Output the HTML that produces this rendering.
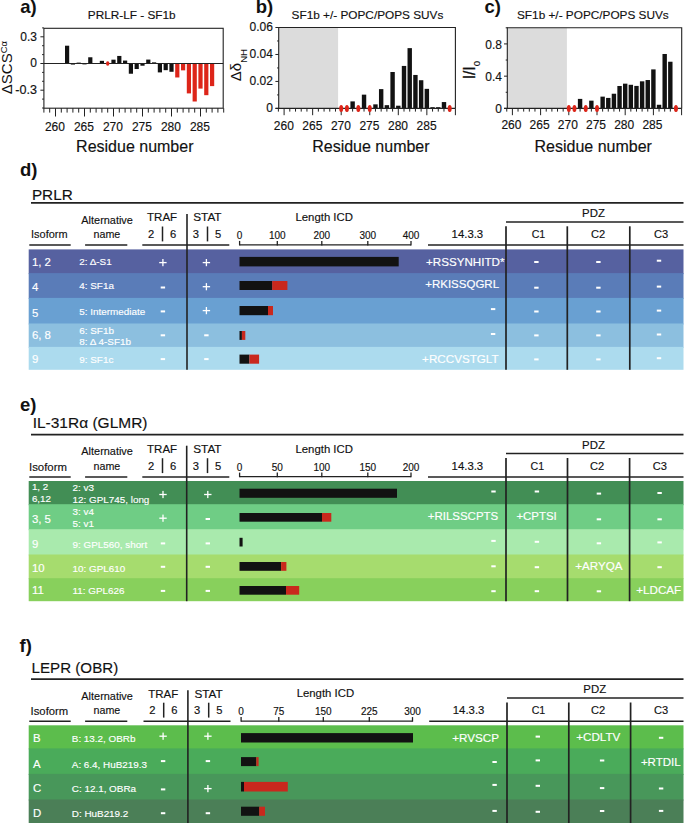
<!DOCTYPE html>
<html><head><meta charset="utf-8"><style>
html,body{margin:0;padding:0;background:#fff;}
body{width:685px;height:823px;overflow:hidden;}
svg{display:block;font-family:"Liberation Sans", sans-serif;}
</style></head><body>
<svg width="685" height="823" viewBox="0 0 685 823">
<rect x="0" y="0" width="685" height="823" fill="#fff"/>
<text x="20.20" y="13.00" font-size="18.5" fill="#111" font-weight="bold">a)</text>
<text x="255.80" y="13.00" font-size="18.5" fill="#111" font-weight="bold">b)</text>
<text x="484.50" y="13.00" font-size="18.5" fill="#111" font-weight="bold">c)</text>
<rect x="43.90" y="28.30" width="179.30" height="79.90" fill="#fff"/>
<rect x="65.00" y="45.70" width="4.20" height="17.80" fill="#121212"/>
<rect x="70.80" y="63.50" width="4.20" height="1.07" fill="#121212"/>
<rect x="76.60" y="62.61" width="4.20" height="0.89" fill="#121212"/>
<rect x="82.40" y="63.50" width="4.20" height="0.89" fill="#121212"/>
<rect x="88.20" y="57.27" width="4.20" height="6.23" fill="#121212"/>
<rect x="99.80" y="60.83" width="4.20" height="2.67" fill="#121212"/>
<rect x="111.40" y="59.67" width="4.20" height="3.83" fill="#121212"/>
<rect x="117.20" y="55.94" width="4.20" height="7.56" fill="#121212"/>
<rect x="123.00" y="60.56" width="4.20" height="2.94" fill="#121212"/>
<rect x="128.80" y="63.50" width="4.20" height="10.23" fill="#121212"/>
<rect x="134.60" y="63.50" width="4.20" height="5.52" fill="#121212"/>
<rect x="140.40" y="63.50" width="4.20" height="2.22" fill="#121212"/>
<rect x="146.20" y="59.58" width="4.20" height="3.92" fill="#121212"/>
<rect x="152.00" y="62.34" width="4.20" height="1.16" fill="#121212"/>
<rect x="157.80" y="63.50" width="4.20" height="8.90" fill="#121212"/>
<rect x="163.60" y="63.50" width="4.20" height="6.67" fill="#121212"/>
<rect x="169.40" y="63.50" width="4.20" height="8.28" fill="#121212"/>
<rect x="175.20" y="63.50" width="4.20" height="13.97" fill="#dd2519"/>
<rect x="181.00" y="63.50" width="4.20" height="6.85" fill="#dd2519"/>
<rect x="186.80" y="63.50" width="4.20" height="29.90" fill="#dd2519"/>
<rect x="192.60" y="63.50" width="4.20" height="38.00" fill="#dd2519"/>
<rect x="198.40" y="63.50" width="4.20" height="25.10" fill="#dd2519"/>
<rect x="204.20" y="63.50" width="4.20" height="31.68" fill="#dd2519"/>
<rect x="210.00" y="63.50" width="4.20" height="22.61" fill="#dd2519"/>
<line x1="43.90" y1="63.50" x2="223.20" y2="63.50" stroke="#222" stroke-width="1.1"/>
<ellipse cx="107.70" cy="63.50" rx="1.7" ry="2.3" fill="#dd2519"/>
<rect x="43.90" y="28.30" width="179.30" height="79.90" fill="none" stroke="#222" stroke-width="1.1"/>
<line x1="42.10" y1="108.00" x2="43.90" y2="108.00" stroke="#222" stroke-width="1.0"/>
<line x1="42.10" y1="99.10" x2="43.90" y2="99.10" stroke="#222" stroke-width="1.0"/>
<line x1="40.40" y1="90.20" x2="43.90" y2="90.20" stroke="#222" stroke-width="1.0"/>
<line x1="42.10" y1="81.30" x2="43.90" y2="81.30" stroke="#222" stroke-width="1.0"/>
<line x1="42.10" y1="72.40" x2="43.90" y2="72.40" stroke="#222" stroke-width="1.0"/>
<line x1="40.40" y1="63.50" x2="43.90" y2="63.50" stroke="#222" stroke-width="1.0"/>
<line x1="42.10" y1="54.60" x2="43.90" y2="54.60" stroke="#222" stroke-width="1.0"/>
<line x1="42.10" y1="45.70" x2="43.90" y2="45.70" stroke="#222" stroke-width="1.0"/>
<line x1="40.40" y1="36.80" x2="43.90" y2="36.80" stroke="#222" stroke-width="1.0"/>
<line x1="42.10" y1="27.90" x2="43.90" y2="27.90" stroke="#222" stroke-width="1.0"/>
<text x="36.90" y="40.70" font-size="12" fill="#111" stroke="#111" stroke-width="0.15" text-anchor="end">0.3</text>
<text x="36.90" y="67.40" font-size="12" fill="#111" stroke="#111" stroke-width="0.15" text-anchor="end">0</text>
<text x="15.20" y="94.10" font-size="12" fill="#111" stroke="#111" stroke-width="0.15" textLength="21.70" lengthAdjust="spacingAndGlyphs">-0.3</text>
<line x1="43.90" y1="108.20" x2="43.90" y2="112.60" stroke="#222" stroke-width="1.0"/>
<line x1="49.70" y1="108.20" x2="49.70" y2="112.60" stroke="#222" stroke-width="1.0"/>
<line x1="55.50" y1="108.20" x2="55.50" y2="116.50" stroke="#222" stroke-width="1.0"/>
<line x1="61.30" y1="108.20" x2="61.30" y2="112.60" stroke="#222" stroke-width="1.0"/>
<line x1="67.10" y1="108.20" x2="67.10" y2="112.60" stroke="#222" stroke-width="1.0"/>
<line x1="72.90" y1="108.20" x2="72.90" y2="112.60" stroke="#222" stroke-width="1.0"/>
<line x1="78.70" y1="108.20" x2="78.70" y2="112.60" stroke="#222" stroke-width="1.0"/>
<line x1="84.50" y1="108.20" x2="84.50" y2="116.50" stroke="#222" stroke-width="1.0"/>
<line x1="90.30" y1="108.20" x2="90.30" y2="112.60" stroke="#222" stroke-width="1.0"/>
<line x1="96.10" y1="108.20" x2="96.10" y2="112.60" stroke="#222" stroke-width="1.0"/>
<line x1="101.90" y1="108.20" x2="101.90" y2="112.60" stroke="#222" stroke-width="1.0"/>
<line x1="107.70" y1="108.20" x2="107.70" y2="112.60" stroke="#222" stroke-width="1.0"/>
<line x1="113.50" y1="108.20" x2="113.50" y2="116.50" stroke="#222" stroke-width="1.0"/>
<line x1="119.30" y1="108.20" x2="119.30" y2="112.60" stroke="#222" stroke-width="1.0"/>
<line x1="125.10" y1="108.20" x2="125.10" y2="112.60" stroke="#222" stroke-width="1.0"/>
<line x1="130.90" y1="108.20" x2="130.90" y2="112.60" stroke="#222" stroke-width="1.0"/>
<line x1="136.70" y1="108.20" x2="136.70" y2="112.60" stroke="#222" stroke-width="1.0"/>
<line x1="142.50" y1="108.20" x2="142.50" y2="116.50" stroke="#222" stroke-width="1.0"/>
<line x1="148.30" y1="108.20" x2="148.30" y2="112.60" stroke="#222" stroke-width="1.0"/>
<line x1="154.10" y1="108.20" x2="154.10" y2="112.60" stroke="#222" stroke-width="1.0"/>
<line x1="159.90" y1="108.20" x2="159.90" y2="112.60" stroke="#222" stroke-width="1.0"/>
<line x1="165.70" y1="108.20" x2="165.70" y2="112.60" stroke="#222" stroke-width="1.0"/>
<line x1="171.50" y1="108.20" x2="171.50" y2="116.50" stroke="#222" stroke-width="1.0"/>
<line x1="177.30" y1="108.20" x2="177.30" y2="112.60" stroke="#222" stroke-width="1.0"/>
<line x1="183.10" y1="108.20" x2="183.10" y2="112.60" stroke="#222" stroke-width="1.0"/>
<line x1="188.90" y1="108.20" x2="188.90" y2="112.60" stroke="#222" stroke-width="1.0"/>
<line x1="194.70" y1="108.20" x2="194.70" y2="112.60" stroke="#222" stroke-width="1.0"/>
<line x1="200.50" y1="108.20" x2="200.50" y2="116.50" stroke="#222" stroke-width="1.0"/>
<line x1="206.30" y1="108.20" x2="206.30" y2="112.60" stroke="#222" stroke-width="1.0"/>
<line x1="212.10" y1="108.20" x2="212.10" y2="112.60" stroke="#222" stroke-width="1.0"/>
<line x1="217.90" y1="108.20" x2="217.90" y2="112.60" stroke="#222" stroke-width="1.0"/>
<line x1="223.70" y1="108.20" x2="223.70" y2="112.60" stroke="#222" stroke-width="1.0"/>
<text x="54.90" y="131.00" font-size="12" fill="#111" stroke="#111" stroke-width="0.15" text-anchor="middle">260</text>
<text x="83.90" y="131.00" font-size="12" fill="#111" stroke="#111" stroke-width="0.15" text-anchor="middle">265</text>
<text x="112.90" y="131.00" font-size="12" fill="#111" stroke="#111" stroke-width="0.15" text-anchor="middle">270</text>
<text x="141.90" y="131.00" font-size="12" fill="#111" stroke="#111" stroke-width="0.15" text-anchor="middle">275</text>
<text x="170.90" y="131.00" font-size="12" fill="#111" stroke="#111" stroke-width="0.15" text-anchor="middle">280</text>
<text x="199.90" y="131.00" font-size="12" fill="#111" stroke="#111" stroke-width="0.15" text-anchor="middle">285</text>
<text x="134.80" y="151.60" font-size="16" fill="#111" stroke="#111" stroke-width="0.15" text-anchor="middle">Residue number</text>
<text x="131.70" y="18.70" font-size="11.8" fill="#111" stroke="#111" stroke-width="0.15" text-anchor="middle">PRLR-LF - SF1b</text>
<text transform="translate(12.3,94.2) rotate(-90)" font-size="15" fill="#111">ΔSCS<tspan dy="-5.2" font-size="9.5">Cα</tspan></text>
<rect x="278.70" y="27.50" width="59.40" height="80.90" fill="#dcdcdc"/>
<rect x="350.42" y="101.39" width="4.40" height="7.01" fill="#121212"/>
<rect x="361.84" y="94.65" width="4.40" height="13.75" fill="#121212"/>
<rect x="373.26" y="104.36" width="4.40" height="4.05" fill="#121212"/>
<rect x="378.97" y="89.12" width="4.40" height="19.28" fill="#121212"/>
<rect x="384.68" y="105.16" width="4.40" height="3.24" fill="#121212"/>
<rect x="390.39" y="72.00" width="4.40" height="36.41" fill="#121212"/>
<rect x="396.10" y="105.70" width="4.40" height="2.70" fill="#121212"/>
<rect x="401.81" y="65.93" width="4.40" height="42.47" fill="#121212"/>
<rect x="407.52" y="48.13" width="4.40" height="60.27" fill="#121212"/>
<rect x="413.23" y="74.96" width="4.40" height="33.44" fill="#121212"/>
<rect x="418.94" y="80.22" width="4.40" height="28.18" fill="#121212"/>
<rect x="424.65" y="88.85" width="4.40" height="19.55" fill="#121212"/>
<rect x="430.36" y="107.19" width="4.40" height="1.21" fill="#121212"/>
<rect x="436.07" y="107.19" width="4.40" height="1.21" fill="#121212"/>
<rect x="441.78" y="102.06" width="4.40" height="6.34" fill="#121212"/>
<polyline points="278.70,27.50 455.40,27.50 455.40,108.40" fill="none" stroke="#222" stroke-width="1.1"/>
<line x1="278.70" y1="27.00" x2="278.70" y2="108.90" stroke="#222" stroke-width="1.1"/>
<line x1="275.50" y1="108.40" x2="455.40" y2="108.40" stroke="#222" stroke-width="1.1"/>
<line x1="275.40" y1="108.40" x2="278.70" y2="108.40" stroke="#222" stroke-width="1.0"/>
<line x1="277.10" y1="94.92" x2="278.70" y2="94.92" stroke="#222" stroke-width="1.0"/>
<line x1="275.40" y1="81.43" x2="278.70" y2="81.43" stroke="#222" stroke-width="1.0"/>
<line x1="277.10" y1="67.95" x2="278.70" y2="67.95" stroke="#222" stroke-width="1.0"/>
<line x1="275.40" y1="54.47" x2="278.70" y2="54.47" stroke="#222" stroke-width="1.0"/>
<line x1="277.10" y1="40.98" x2="278.70" y2="40.98" stroke="#222" stroke-width="1.0"/>
<line x1="275.40" y1="27.50" x2="278.70" y2="27.50" stroke="#222" stroke-width="1.0"/>
<text x="272.90" y="111.90" font-size="12" fill="#111" stroke="#111" stroke-width="0.15" text-anchor="end">0</text>
<text x="272.90" y="84.93" font-size="12" fill="#111" stroke="#111" stroke-width="0.15" text-anchor="end">0.02</text>
<text x="272.90" y="57.97" font-size="12" fill="#111" stroke="#111" stroke-width="0.15" text-anchor="end">0.04</text>
<text x="272.90" y="31.00" font-size="12" fill="#111" stroke="#111" stroke-width="0.15" text-anchor="end">0.06</text>
<line x1="278.39" y1="108.40" x2="278.39" y2="111.60" stroke="#222" stroke-width="1.0"/>
<line x1="284.10" y1="108.40" x2="284.10" y2="115.20" stroke="#222" stroke-width="1.0"/>
<line x1="289.81" y1="108.40" x2="289.81" y2="111.60" stroke="#222" stroke-width="1.0"/>
<line x1="295.52" y1="108.40" x2="295.52" y2="111.60" stroke="#222" stroke-width="1.0"/>
<line x1="301.23" y1="108.40" x2="301.23" y2="111.60" stroke="#222" stroke-width="1.0"/>
<line x1="306.94" y1="108.40" x2="306.94" y2="111.60" stroke="#222" stroke-width="1.0"/>
<line x1="312.65" y1="108.40" x2="312.65" y2="115.20" stroke="#222" stroke-width="1.0"/>
<line x1="318.36" y1="108.40" x2="318.36" y2="111.60" stroke="#222" stroke-width="1.0"/>
<line x1="324.07" y1="108.40" x2="324.07" y2="111.60" stroke="#222" stroke-width="1.0"/>
<line x1="329.78" y1="108.40" x2="329.78" y2="111.60" stroke="#222" stroke-width="1.0"/>
<line x1="335.49" y1="108.40" x2="335.49" y2="111.60" stroke="#222" stroke-width="1.0"/>
<line x1="341.20" y1="108.40" x2="341.20" y2="115.20" stroke="#222" stroke-width="1.0"/>
<line x1="346.91" y1="108.40" x2="346.91" y2="111.60" stroke="#222" stroke-width="1.0"/>
<line x1="352.62" y1="108.40" x2="352.62" y2="111.60" stroke="#222" stroke-width="1.0"/>
<line x1="358.33" y1="108.40" x2="358.33" y2="111.60" stroke="#222" stroke-width="1.0"/>
<line x1="364.04" y1="108.40" x2="364.04" y2="111.60" stroke="#222" stroke-width="1.0"/>
<line x1="369.75" y1="108.40" x2="369.75" y2="115.20" stroke="#222" stroke-width="1.0"/>
<line x1="375.46" y1="108.40" x2="375.46" y2="111.60" stroke="#222" stroke-width="1.0"/>
<line x1="381.17" y1="108.40" x2="381.17" y2="111.60" stroke="#222" stroke-width="1.0"/>
<line x1="386.88" y1="108.40" x2="386.88" y2="111.60" stroke="#222" stroke-width="1.0"/>
<line x1="392.59" y1="108.40" x2="392.59" y2="111.60" stroke="#222" stroke-width="1.0"/>
<line x1="398.30" y1="108.40" x2="398.30" y2="115.20" stroke="#222" stroke-width="1.0"/>
<line x1="404.01" y1="108.40" x2="404.01" y2="111.60" stroke="#222" stroke-width="1.0"/>
<line x1="409.72" y1="108.40" x2="409.72" y2="111.60" stroke="#222" stroke-width="1.0"/>
<line x1="415.43" y1="108.40" x2="415.43" y2="111.60" stroke="#222" stroke-width="1.0"/>
<line x1="421.14" y1="108.40" x2="421.14" y2="111.60" stroke="#222" stroke-width="1.0"/>
<line x1="426.85" y1="108.40" x2="426.85" y2="115.20" stroke="#222" stroke-width="1.0"/>
<line x1="432.56" y1="108.40" x2="432.56" y2="111.60" stroke="#222" stroke-width="1.0"/>
<line x1="438.27" y1="108.40" x2="438.27" y2="111.60" stroke="#222" stroke-width="1.0"/>
<line x1="443.98" y1="108.40" x2="443.98" y2="111.60" stroke="#222" stroke-width="1.0"/>
<line x1="449.69" y1="108.40" x2="449.69" y2="111.60" stroke="#222" stroke-width="1.0"/>
<line x1="455.40" y1="108.40" x2="455.40" y2="115.20" stroke="#222" stroke-width="1.0"/>
<ellipse cx="341.20" cy="108.40" rx="2.0" ry="3.5" fill="#dd2519"/>
<ellipse cx="346.91" cy="108.40" rx="2.0" ry="3.5" fill="#dd2519"/>
<ellipse cx="358.33" cy="108.40" rx="2.0" ry="3.5" fill="#dd2519"/>
<ellipse cx="369.75" cy="108.40" rx="2.0" ry="3.5" fill="#dd2519"/>
<ellipse cx="449.69" cy="108.40" rx="2.0" ry="3.5" fill="#dd2519"/>
<text x="283.80" y="129.90" font-size="12" fill="#111" stroke="#111" stroke-width="0.15" text-anchor="middle">260</text>
<text x="312.35" y="129.90" font-size="12" fill="#111" stroke="#111" stroke-width="0.15" text-anchor="middle">265</text>
<text x="340.90" y="129.90" font-size="12" fill="#111" stroke="#111" stroke-width="0.15" text-anchor="middle">270</text>
<text x="369.45" y="129.90" font-size="12" fill="#111" stroke="#111" stroke-width="0.15" text-anchor="middle">275</text>
<text x="398.00" y="129.90" font-size="12" fill="#111" stroke="#111" stroke-width="0.15" text-anchor="middle">280</text>
<text x="426.55" y="129.90" font-size="12" fill="#111" stroke="#111" stroke-width="0.15" text-anchor="middle">285</text>
<text x="370.90" y="151.60" font-size="16" fill="#111" stroke="#111" stroke-width="0.15" text-anchor="middle">Residue number</text>
<text x="367.50" y="18.70" font-size="11.8" fill="#111" stroke="#111" stroke-width="0.15" text-anchor="middle">SF1b +/- POPC/POPS SUVs</text>
<text transform="translate(241.2,81.2) rotate(-90)" font-size="15" fill="#111">Δδ<tspan dy="5.6" font-size="9.6">NH</tspan></text>
<rect x="507.30" y="27.80" width="59.60" height="80.60" fill="#dcdcdc"/>
<rect x="577.88" y="98.89" width="4.40" height="9.51" fill="#121212"/>
<rect x="589.16" y="100.66" width="4.40" height="7.74" fill="#121212"/>
<rect x="600.44" y="96.63" width="4.40" height="11.77" fill="#121212"/>
<rect x="606.08" y="97.92" width="4.40" height="10.48" fill="#121212"/>
<rect x="611.72" y="93.73" width="4.40" height="14.67" fill="#121212"/>
<rect x="617.36" y="85.99" width="4.40" height="22.41" fill="#121212"/>
<rect x="623.00" y="83.66" width="4.40" height="24.74" fill="#121212"/>
<rect x="628.64" y="84.78" width="4.40" height="23.62" fill="#121212"/>
<rect x="634.28" y="85.91" width="4.40" height="22.49" fill="#121212"/>
<rect x="639.92" y="81.32" width="4.40" height="27.08" fill="#121212"/>
<rect x="645.56" y="80.03" width="4.40" height="28.37" fill="#121212"/>
<rect x="651.20" y="69.39" width="4.40" height="39.01" fill="#121212"/>
<rect x="656.84" y="104.77" width="4.40" height="3.63" fill="#121212"/>
<rect x="662.48" y="53.99" width="4.40" height="54.41" fill="#121212"/>
<rect x="668.12" y="61.73" width="4.40" height="46.67" fill="#121212"/>
<polyline points="507.30,27.80 681.70,27.80 681.70,108.40" fill="none" stroke="#222" stroke-width="1.1"/>
<line x1="507.30" y1="27.30" x2="507.30" y2="108.90" stroke="#222" stroke-width="1.1"/>
<line x1="504.10" y1="108.40" x2="681.70" y2="108.40" stroke="#222" stroke-width="1.1"/>
<line x1="504.00" y1="108.40" x2="507.30" y2="108.40" stroke="#222" stroke-width="1.0"/>
<line x1="505.70" y1="92.28" x2="507.30" y2="92.28" stroke="#222" stroke-width="1.0"/>
<line x1="504.00" y1="76.16" x2="507.30" y2="76.16" stroke="#222" stroke-width="1.0"/>
<line x1="505.70" y1="60.04" x2="507.30" y2="60.04" stroke="#222" stroke-width="1.0"/>
<line x1="504.00" y1="43.92" x2="507.30" y2="43.92" stroke="#222" stroke-width="1.0"/>
<line x1="505.70" y1="27.80" x2="507.30" y2="27.80" stroke="#222" stroke-width="1.0"/>
<text x="502.00" y="113.20" font-size="12" fill="#111" stroke="#111" stroke-width="0.15" text-anchor="end">0</text>
<text x="502.00" y="80.96" font-size="12" fill="#111" stroke="#111" stroke-width="0.15" text-anchor="end">0.4</text>
<text x="502.00" y="48.72" font-size="12" fill="#111" stroke="#111" stroke-width="0.15" text-anchor="end">0.8</text>
<line x1="506.76" y1="108.40" x2="506.76" y2="111.60" stroke="#222" stroke-width="1.0"/>
<line x1="512.40" y1="108.40" x2="512.40" y2="115.20" stroke="#222" stroke-width="1.0"/>
<line x1="518.04" y1="108.40" x2="518.04" y2="111.60" stroke="#222" stroke-width="1.0"/>
<line x1="523.68" y1="108.40" x2="523.68" y2="111.60" stroke="#222" stroke-width="1.0"/>
<line x1="529.32" y1="108.40" x2="529.32" y2="111.60" stroke="#222" stroke-width="1.0"/>
<line x1="534.96" y1="108.40" x2="534.96" y2="111.60" stroke="#222" stroke-width="1.0"/>
<line x1="540.60" y1="108.40" x2="540.60" y2="115.20" stroke="#222" stroke-width="1.0"/>
<line x1="546.24" y1="108.40" x2="546.24" y2="111.60" stroke="#222" stroke-width="1.0"/>
<line x1="551.88" y1="108.40" x2="551.88" y2="111.60" stroke="#222" stroke-width="1.0"/>
<line x1="557.52" y1="108.40" x2="557.52" y2="111.60" stroke="#222" stroke-width="1.0"/>
<line x1="563.16" y1="108.40" x2="563.16" y2="111.60" stroke="#222" stroke-width="1.0"/>
<line x1="568.80" y1="108.40" x2="568.80" y2="115.20" stroke="#222" stroke-width="1.0"/>
<line x1="574.44" y1="108.40" x2="574.44" y2="111.60" stroke="#222" stroke-width="1.0"/>
<line x1="580.08" y1="108.40" x2="580.08" y2="111.60" stroke="#222" stroke-width="1.0"/>
<line x1="585.72" y1="108.40" x2="585.72" y2="111.60" stroke="#222" stroke-width="1.0"/>
<line x1="591.36" y1="108.40" x2="591.36" y2="111.60" stroke="#222" stroke-width="1.0"/>
<line x1="597.00" y1="108.40" x2="597.00" y2="115.20" stroke="#222" stroke-width="1.0"/>
<line x1="602.64" y1="108.40" x2="602.64" y2="111.60" stroke="#222" stroke-width="1.0"/>
<line x1="608.28" y1="108.40" x2="608.28" y2="111.60" stroke="#222" stroke-width="1.0"/>
<line x1="613.92" y1="108.40" x2="613.92" y2="111.60" stroke="#222" stroke-width="1.0"/>
<line x1="619.56" y1="108.40" x2="619.56" y2="111.60" stroke="#222" stroke-width="1.0"/>
<line x1="625.20" y1="108.40" x2="625.20" y2="115.20" stroke="#222" stroke-width="1.0"/>
<line x1="630.84" y1="108.40" x2="630.84" y2="111.60" stroke="#222" stroke-width="1.0"/>
<line x1="636.48" y1="108.40" x2="636.48" y2="111.60" stroke="#222" stroke-width="1.0"/>
<line x1="642.12" y1="108.40" x2="642.12" y2="111.60" stroke="#222" stroke-width="1.0"/>
<line x1="647.76" y1="108.40" x2="647.76" y2="111.60" stroke="#222" stroke-width="1.0"/>
<line x1="653.40" y1="108.40" x2="653.40" y2="115.20" stroke="#222" stroke-width="1.0"/>
<line x1="659.04" y1="108.40" x2="659.04" y2="111.60" stroke="#222" stroke-width="1.0"/>
<line x1="664.68" y1="108.40" x2="664.68" y2="111.60" stroke="#222" stroke-width="1.0"/>
<line x1="670.32" y1="108.40" x2="670.32" y2="111.60" stroke="#222" stroke-width="1.0"/>
<line x1="675.96" y1="108.40" x2="675.96" y2="111.60" stroke="#222" stroke-width="1.0"/>
<line x1="681.60" y1="108.40" x2="681.60" y2="115.20" stroke="#222" stroke-width="1.0"/>
<ellipse cx="568.80" cy="108.40" rx="2.0" ry="3.5" fill="#dd2519"/>
<ellipse cx="574.44" cy="108.40" rx="2.0" ry="3.5" fill="#dd2519"/>
<ellipse cx="585.72" cy="108.40" rx="2.0" ry="3.5" fill="#dd2519"/>
<ellipse cx="597.00" cy="108.40" rx="2.0" ry="3.5" fill="#dd2519"/>
<ellipse cx="675.96" cy="108.40" rx="2.0" ry="3.5" fill="#dd2519"/>
<text x="511.40" y="128.80" font-size="12" fill="#111" stroke="#111" stroke-width="0.15" text-anchor="middle">260</text>
<text x="539.60" y="128.80" font-size="12" fill="#111" stroke="#111" stroke-width="0.15" text-anchor="middle">265</text>
<text x="567.80" y="128.80" font-size="12" fill="#111" stroke="#111" stroke-width="0.15" text-anchor="middle">270</text>
<text x="596.00" y="128.80" font-size="12" fill="#111" stroke="#111" stroke-width="0.15" text-anchor="middle">275</text>
<text x="624.20" y="128.80" font-size="12" fill="#111" stroke="#111" stroke-width="0.15" text-anchor="middle">280</text>
<text x="652.40" y="128.80" font-size="12" fill="#111" stroke="#111" stroke-width="0.15" text-anchor="middle">285</text>
<text x="593.20" y="151.60" font-size="16" fill="#111" stroke="#111" stroke-width="0.15" text-anchor="middle">Residue number</text>
<text x="592.90" y="18.70" font-size="11.8" fill="#111" stroke="#111" stroke-width="0.15" text-anchor="middle">SF1b +/- POPC/POPS SUVs</text>
<text transform="translate(474.9,79.3) rotate(-90)" font-size="15.6" fill="#111" stroke="#111" stroke-width="0.35">I/I<tspan dy="5.3" font-size="9.8" stroke-width="0.15">0</tspan></text>
<text x="19.90" y="176.30" font-size="18.5" fill="#111" font-weight="bold">d)</text>
<text x="31.90" y="199.70" font-size="15.3" fill="#111" stroke="#111" stroke-width="0.15">PRLR</text>
<line x1="31.00" y1="202.90" x2="683.50" y2="202.90" stroke="#222" stroke-width="1.6"/>
<text x="49.30" y="238.30" font-size="11.2" fill="#111" stroke="#111" stroke-width="0.15" text-anchor="middle" textLength="36.50" lengthAdjust="spacingAndGlyphs">Isoform</text>
<text x="107.10" y="223.60" font-size="11.2" fill="#111" stroke="#111" stroke-width="0.15" text-anchor="middle" textLength="51.50" lengthAdjust="spacingAndGlyphs">Alternative</text>
<text x="106.90" y="238.10" font-size="11.2" fill="#111" stroke="#111" stroke-width="0.15" text-anchor="middle" textLength="26.80" lengthAdjust="spacingAndGlyphs">name</text>
<text x="162.10" y="221.40" font-size="11.2" fill="#111" stroke="#111" stroke-width="0.15" text-anchor="middle" textLength="30.00" lengthAdjust="spacingAndGlyphs">TRAF</text>
<text x="207.40" y="221.40" font-size="11.2" fill="#111" stroke="#111" stroke-width="0.15" text-anchor="middle" textLength="28.30" lengthAdjust="spacingAndGlyphs">STAT</text>
<text x="151.10" y="238.10" font-size="11.2" fill="#111" stroke="#111" stroke-width="0.15" text-anchor="middle">2</text>
<text x="173.20" y="238.10" font-size="11.2" fill="#111" stroke="#111" stroke-width="0.15" text-anchor="middle">6</text>
<text x="195.90" y="238.10" font-size="11.2" fill="#111" stroke="#111" stroke-width="0.15" text-anchor="middle">3</text>
<text x="218.20" y="238.10" font-size="11.2" fill="#111" stroke="#111" stroke-width="0.15" text-anchor="middle">5</text>
<line x1="162.50" y1="226.50" x2="162.50" y2="241.40" stroke="#222" stroke-width="1.5"/>
<line x1="207.50" y1="226.50" x2="207.50" y2="241.40" stroke="#222" stroke-width="1.5"/>
<text x="324.20" y="221.10" font-size="11.2" fill="#111" stroke="#111" stroke-width="0.15" text-anchor="middle" textLength="57.50" lengthAdjust="spacingAndGlyphs">Length ICD</text>
<text x="467.40" y="238.20" font-size="11.2" fill="#111" stroke="#111" stroke-width="0.15" text-anchor="middle" textLength="31.60" lengthAdjust="spacingAndGlyphs">14.3.3</text>
<text x="593.50" y="217.20" font-size="11.2" fill="#111" stroke="#111" stroke-width="0.15" text-anchor="middle" textLength="22.80" lengthAdjust="spacingAndGlyphs">PDZ</text>
<text x="538.50" y="238.00" font-size="11.2" fill="#111" stroke="#111" stroke-width="0.15" text-anchor="middle" textLength="13.60" lengthAdjust="spacingAndGlyphs">C1</text>
<text x="598.20" y="238.00" font-size="11.2" fill="#111" stroke="#111" stroke-width="0.15" text-anchor="middle" textLength="14.20" lengthAdjust="spacingAndGlyphs">C2</text>
<text x="661.00" y="238.00" font-size="11.2" fill="#111" stroke="#111" stroke-width="0.15" text-anchor="middle" textLength="14.20" lengthAdjust="spacingAndGlyphs">C3</text>
<line x1="29.30" y1="244.90" x2="70.70" y2="244.90" stroke="#222" stroke-width="1.5"/>
<line x1="85.10" y1="244.90" x2="127.30" y2="244.90" stroke="#222" stroke-width="1.5"/>
<line x1="142.30" y1="244.90" x2="229.30" y2="244.90" stroke="#222" stroke-width="1.5"/>
<line x1="428.00" y1="244.90" x2="683.50" y2="244.90" stroke="#222" stroke-width="1.5"/>
<line x1="506.00" y1="221.90" x2="683.50" y2="221.90" stroke="#222" stroke-width="1.5"/>
<line x1="239.60" y1="244.90" x2="411.00" y2="244.90" stroke="#222" stroke-width="1.3"/>
<line x1="239.60" y1="245.50" x2="239.60" y2="240.90" stroke="#222" stroke-width="1.3"/>
<text x="239.60" y="239.20" font-size="10.0" fill="#111" stroke="#111" stroke-width="0.15" text-anchor="middle">0</text>
<line x1="277.30" y1="245.50" x2="277.30" y2="240.90" stroke="#222" stroke-width="1.3"/>
<text x="277.30" y="239.20" font-size="10.0" fill="#111" stroke="#111" stroke-width="0.15" text-anchor="middle">100</text>
<line x1="321.80" y1="245.50" x2="321.80" y2="240.90" stroke="#222" stroke-width="1.3"/>
<text x="321.80" y="239.20" font-size="10.0" fill="#111" stroke="#111" stroke-width="0.15" text-anchor="middle">200</text>
<line x1="367.80" y1="245.50" x2="367.80" y2="240.90" stroke="#222" stroke-width="1.3"/>
<text x="367.80" y="239.20" font-size="10.0" fill="#111" stroke="#111" stroke-width="0.15" text-anchor="middle">300</text>
<line x1="411.00" y1="245.50" x2="411.00" y2="240.90" stroke="#222" stroke-width="1.3"/>
<text x="411.00" y="239.20" font-size="10.0" fill="#111" stroke="#111" stroke-width="0.15" text-anchor="middle">400</text>
<rect x="28.70" y="249.40" width="654.80" height="24.70" fill="#5661a0"/>
<rect x="28.70" y="273.10" width="654.80" height="25.80" fill="#5a7cb8"/>
<rect x="28.70" y="297.90" width="654.80" height="26.60" fill="#69a0d2"/>
<rect x="28.70" y="323.50" width="654.80" height="24.40" fill="#8cbfdf"/>
<rect x="28.70" y="346.90" width="654.80" height="22.90" fill="#acdbee"/>
<text x="31.90" y="265.50" font-size="11.4" fill="#fff" stroke="#fff" stroke-width="0.15">1, 2</text>
<text x="79.30" y="264.80" font-size="9.9" fill="#fff" stroke="#fff" stroke-width="0.15">2: Δ-S1</text>
<rect x="159.20" y="261.95" width="7.40" height="1.30" fill="#fff"/>
<rect x="162.25" y="259.00" width="1.30" height="7.20" fill="#fff"/>
<rect x="202.70" y="261.95" width="7.40" height="1.30" fill="#fff"/>
<rect x="205.75" y="259.00" width="1.30" height="7.20" fill="#fff"/>
<rect x="239.50" y="256.90" width="159.20" height="9.50" fill="#121212"/>
<text x="426.00" y="265.80" font-size="11.0" fill="#fff" stroke="#fff" stroke-width="0.15" textLength="78.50" lengthAdjust="spacingAndGlyphs">+RSSYNHITD*</text>
<rect x="534.20" y="261.00" width="4.40" height="2.00" fill="#fff"/>
<rect x="596.20" y="261.00" width="4.40" height="2.00" fill="#fff"/>
<rect x="656.80" y="259.70" width="4.40" height="2.00" fill="#fff"/>
<text x="31.90" y="291.10" font-size="11.4" fill="#fff" stroke="#fff" stroke-width="0.15">4</text>
<text x="79.30" y="288.90" font-size="9.9" fill="#fff" stroke="#fff" stroke-width="0.15">4: SF1a</text>
<rect x="160.70" y="286.50" width="4.40" height="2.00" fill="#fff"/>
<rect x="202.70" y="286.05" width="7.40" height="1.30" fill="#fff"/>
<rect x="205.75" y="283.10" width="1.30" height="7.20" fill="#fff"/>
<rect x="239.50" y="281.00" width="32.70" height="9.00" fill="#121212"/>
<rect x="272.20" y="281.00" width="15.20" height="9.00" fill="#c9281d"/>
<text x="425.20" y="288.20" font-size="11.0" fill="#fff" stroke="#fff" stroke-width="0.15" textLength="73.90" lengthAdjust="spacingAndGlyphs">+RKISSQGRL</text>
<rect x="534.20" y="286.70" width="4.40" height="2.00" fill="#fff"/>
<rect x="596.20" y="286.70" width="4.40" height="2.00" fill="#fff"/>
<rect x="656.80" y="285.60" width="4.40" height="2.00" fill="#fff"/>
<text x="31.90" y="316.70" font-size="11.4" fill="#fff" stroke="#fff" stroke-width="0.15">5</text>
<text x="79.30" y="314.90" font-size="9.9" fill="#fff" stroke="#fff" stroke-width="0.15">5: Intermediate</text>
<rect x="160.70" y="310.40" width="4.40" height="2.00" fill="#fff"/>
<rect x="202.70" y="309.95" width="7.40" height="1.30" fill="#fff"/>
<rect x="205.75" y="307.00" width="1.30" height="7.20" fill="#fff"/>
<rect x="239.50" y="306.00" width="28.50" height="9.20" fill="#121212"/>
<rect x="268.00" y="306.00" width="5.00" height="9.20" fill="#c9281d"/>
<rect x="490.90" y="308.10" width="4.40" height="2.00" fill="#fff"/>
<rect x="534.20" y="310.50" width="4.40" height="2.00" fill="#fff"/>
<rect x="596.20" y="310.50" width="4.40" height="2.00" fill="#fff"/>
<rect x="656.80" y="309.60" width="4.40" height="2.00" fill="#fff"/>
<text x="31.90" y="338.90" font-size="11.4" fill="#fff" stroke="#fff" stroke-width="0.15">6, 8</text>
<text x="79.30" y="333.70" font-size="9.9" fill="#fff" stroke="#fff" stroke-width="0.15">6: SF1b</text>
<text x="79.30" y="344.70" font-size="9.9" fill="#fff" stroke="#fff" stroke-width="0.15">8: Δ 4-SF1b</text>
<rect x="160.70" y="334.30" width="4.40" height="2.00" fill="#fff"/>
<rect x="204.20" y="334.30" width="4.40" height="2.00" fill="#fff"/>
<rect x="239.50" y="331.00" width="2.40" height="8.90" fill="#121212"/>
<rect x="241.90" y="331.00" width="3.40" height="8.90" fill="#c9281d"/>
<rect x="490.90" y="333.00" width="4.40" height="2.00" fill="#fff"/>
<rect x="534.20" y="334.40" width="4.40" height="2.00" fill="#fff"/>
<rect x="596.20" y="334.40" width="4.40" height="2.00" fill="#fff"/>
<rect x="656.80" y="333.50" width="4.40" height="2.00" fill="#fff"/>
<text x="31.90" y="362.60" font-size="11.4" fill="#fff" stroke="#fff" stroke-width="0.15">9</text>
<text x="79.30" y="362.60" font-size="9.9" fill="#fff" stroke="#fff" stroke-width="0.15">9: SF1c</text>
<rect x="160.70" y="358.10" width="4.40" height="2.00" fill="#fff"/>
<rect x="204.20" y="358.10" width="4.40" height="2.00" fill="#fff"/>
<rect x="239.50" y="354.60" width="9.90" height="9.10" fill="#121212"/>
<rect x="249.40" y="354.60" width="9.70" height="9.10" fill="#c9281d"/>
<text x="422.10" y="362.80" font-size="11.0" fill="#fff" stroke="#fff" stroke-width="0.15" textLength="76.50" lengthAdjust="spacingAndGlyphs">+RCCVSTGLT</text>
<rect x="534.20" y="358.40" width="4.40" height="2.00" fill="#fff"/>
<rect x="596.20" y="358.40" width="4.40" height="2.00" fill="#fff"/>
<rect x="656.80" y="357.20" width="4.40" height="2.00" fill="#fff"/>
<line x1="187.00" y1="214.00" x2="187.00" y2="369.80" stroke="#222" stroke-width="1.6"/>
<line x1="506.00" y1="226.30" x2="506.00" y2="369.80" stroke="#222" stroke-width="1.7"/>
<line x1="567.30" y1="226.30" x2="567.30" y2="369.80" stroke="#222" stroke-width="1.7"/>
<line x1="629.80" y1="226.30" x2="629.80" y2="369.80" stroke="#222" stroke-width="1.7"/>
<text x="19.90" y="410.50" font-size="18.5" fill="#111" font-weight="bold">e)</text>
<text x="32.70" y="427.90" font-size="15.3" fill="#111" stroke="#111" stroke-width="0.15" textLength="114.80" lengthAdjust="spacingAndGlyphs">IL-31Rα (GLMR)</text>
<line x1="31.00" y1="434.60" x2="683.50" y2="434.60" stroke="#222" stroke-width="1.6"/>
<text x="48.00" y="471.00" font-size="11.2" fill="#111" stroke="#111" stroke-width="0.15" text-anchor="middle" textLength="38.00" lengthAdjust="spacingAndGlyphs">Isoform</text>
<text x="107.10" y="455.30" font-size="11.2" fill="#111" stroke="#111" stroke-width="0.15" text-anchor="middle" textLength="51.50" lengthAdjust="spacingAndGlyphs">Alternative</text>
<text x="106.90" y="469.80" font-size="11.2" fill="#111" stroke="#111" stroke-width="0.15" text-anchor="middle" textLength="26.80" lengthAdjust="spacingAndGlyphs">name</text>
<text x="162.10" y="453.10" font-size="11.2" fill="#111" stroke="#111" stroke-width="0.15" text-anchor="middle" textLength="30.00" lengthAdjust="spacingAndGlyphs">TRAF</text>
<text x="207.40" y="453.10" font-size="11.2" fill="#111" stroke="#111" stroke-width="0.15" text-anchor="middle" textLength="28.30" lengthAdjust="spacingAndGlyphs">STAT</text>
<text x="151.10" y="469.80" font-size="11.2" fill="#111" stroke="#111" stroke-width="0.15" text-anchor="middle">2</text>
<text x="173.20" y="469.80" font-size="11.2" fill="#111" stroke="#111" stroke-width="0.15" text-anchor="middle">6</text>
<text x="195.90" y="469.80" font-size="11.2" fill="#111" stroke="#111" stroke-width="0.15" text-anchor="middle">3</text>
<text x="218.20" y="469.80" font-size="11.2" fill="#111" stroke="#111" stroke-width="0.15" text-anchor="middle">5</text>
<line x1="162.50" y1="458.20" x2="162.50" y2="473.10" stroke="#222" stroke-width="1.5"/>
<line x1="207.50" y1="458.20" x2="207.50" y2="473.10" stroke="#222" stroke-width="1.5"/>
<text x="324.20" y="452.80" font-size="11.2" fill="#111" stroke="#111" stroke-width="0.15" text-anchor="middle" textLength="57.50" lengthAdjust="spacingAndGlyphs">Length ICD</text>
<text x="467.40" y="469.90" font-size="11.2" fill="#111" stroke="#111" stroke-width="0.15" text-anchor="middle" textLength="31.60" lengthAdjust="spacingAndGlyphs">14.3.3</text>
<text x="593.50" y="448.90" font-size="11.2" fill="#111" stroke="#111" stroke-width="0.15" text-anchor="middle" textLength="22.80" lengthAdjust="spacingAndGlyphs">PDZ</text>
<text x="537.30" y="470.40" font-size="11.2" fill="#111" stroke="#111" stroke-width="0.15" text-anchor="middle" textLength="13.60" lengthAdjust="spacingAndGlyphs">C1</text>
<text x="597.00" y="470.40" font-size="11.2" fill="#111" stroke="#111" stroke-width="0.15" text-anchor="middle" textLength="14.20" lengthAdjust="spacingAndGlyphs">C2</text>
<text x="659.80" y="470.40" font-size="11.2" fill="#111" stroke="#111" stroke-width="0.15" text-anchor="middle" textLength="14.20" lengthAdjust="spacingAndGlyphs">C3</text>
<line x1="29.30" y1="476.90" x2="70.70" y2="476.90" stroke="#222" stroke-width="1.5"/>
<line x1="85.10" y1="476.90" x2="127.30" y2="476.90" stroke="#222" stroke-width="1.5"/>
<line x1="142.30" y1="476.90" x2="229.30" y2="476.90" stroke="#222" stroke-width="1.5"/>
<line x1="428.00" y1="476.90" x2="683.50" y2="476.90" stroke="#222" stroke-width="1.5"/>
<line x1="506.00" y1="453.60" x2="683.50" y2="453.60" stroke="#222" stroke-width="1.5"/>
<line x1="239.60" y1="476.60" x2="411.00" y2="476.60" stroke="#222" stroke-width="1.3"/>
<line x1="239.60" y1="477.20" x2="239.60" y2="472.60" stroke="#222" stroke-width="1.3"/>
<text x="239.60" y="470.90" font-size="10.0" fill="#111" stroke="#111" stroke-width="0.15" text-anchor="middle">0</text>
<line x1="277.30" y1="477.20" x2="277.30" y2="472.60" stroke="#222" stroke-width="1.3"/>
<text x="277.30" y="470.90" font-size="10.0" fill="#111" stroke="#111" stroke-width="0.15" text-anchor="middle">50</text>
<line x1="321.80" y1="477.20" x2="321.80" y2="472.60" stroke="#222" stroke-width="1.3"/>
<text x="321.80" y="470.90" font-size="10.0" fill="#111" stroke="#111" stroke-width="0.15" text-anchor="middle">100</text>
<line x1="367.80" y1="477.20" x2="367.80" y2="472.60" stroke="#222" stroke-width="1.3"/>
<text x="367.80" y="470.90" font-size="10.0" fill="#111" stroke="#111" stroke-width="0.15" text-anchor="middle">150</text>
<line x1="411.00" y1="477.20" x2="411.00" y2="472.60" stroke="#222" stroke-width="1.3"/>
<text x="411.00" y="470.90" font-size="10.0" fill="#111" stroke="#111" stroke-width="0.15" text-anchor="middle">200</text>
<rect x="28.70" y="481.00" width="654.80" height="24.20" fill="#428e55"/>
<rect x="28.70" y="504.20" width="654.80" height="26.00" fill="#6fcd85"/>
<rect x="28.70" y="529.20" width="654.80" height="26.30" fill="#a9eaad"/>
<rect x="28.70" y="554.50" width="654.80" height="24.70" fill="#a6dc6e"/>
<rect x="28.70" y="578.20" width="654.80" height="23.00" fill="#88d05c"/>
<text x="31.90" y="490.20" font-size="9.8" fill="#fff" stroke="#fff" stroke-width="0.15">1, 2</text>
<text x="31.90" y="502.10" font-size="9.8" fill="#fff" stroke="#fff" stroke-width="0.15">6,12</text>
<text x="72.50" y="490.90" font-size="9.9" fill="#fff" stroke="#fff" stroke-width="0.15">2: v3</text>
<text x="72.50" y="503.00" font-size="9.9" fill="#fff" stroke="#fff" stroke-width="0.15">12: GPL745, long</text>
<rect x="159.30" y="493.85" width="7.40" height="1.30" fill="#fff"/>
<rect x="162.35" y="490.90" width="1.30" height="7.20" fill="#fff"/>
<rect x="204.10" y="493.85" width="7.40" height="1.30" fill="#fff"/>
<rect x="207.15" y="490.90" width="1.30" height="7.20" fill="#fff"/>
<rect x="239.50" y="488.70" width="157.50" height="9.10" fill="#121212"/>
<rect x="491.30" y="490.50" width="4.40" height="2.00" fill="#fff"/>
<rect x="534.70" y="490.50" width="4.40" height="2.00" fill="#fff"/>
<rect x="596.70" y="492.60" width="4.40" height="2.00" fill="#fff"/>
<rect x="657.40" y="492.00" width="4.40" height="2.00" fill="#fff"/>
<text x="31.90" y="523.20" font-size="11.4" fill="#fff" stroke="#fff" stroke-width="0.15">3, 5</text>
<text x="72.50" y="515.40" font-size="9.9" fill="#fff" stroke="#fff" stroke-width="0.15">3: v4</text>
<text x="72.50" y="527.00" font-size="9.9" fill="#fff" stroke="#fff" stroke-width="0.15">5: v1</text>
<rect x="159.30" y="517.55" width="7.40" height="1.30" fill="#fff"/>
<rect x="162.35" y="514.60" width="1.30" height="7.20" fill="#fff"/>
<rect x="205.60" y="518.00" width="4.40" height="2.00" fill="#fff"/>
<rect x="239.50" y="513.00" width="82.50" height="8.70" fill="#121212"/>
<rect x="322.00" y="513.00" width="9.30" height="8.70" fill="#c9281d"/>
<text x="427.70" y="520.00" font-size="11.0" fill="#fff" stroke="#fff" stroke-width="0.15" textLength="70.60" lengthAdjust="spacingAndGlyphs">+RILSSCPTS</text>
<text x="516.40" y="520.00" font-size="11.0" fill="#fff" stroke="#fff" stroke-width="0.15" textLength="40.40" lengthAdjust="spacingAndGlyphs">+CPTSI</text>
<rect x="596.70" y="518.30" width="4.40" height="2.00" fill="#fff"/>
<rect x="657.40" y="518.30" width="4.40" height="2.00" fill="#fff"/>
<text x="31.90" y="547.90" font-size="11.4" fill="#fff" stroke="#fff" stroke-width="0.15">9</text>
<text x="72.50" y="547.90" font-size="9.9" fill="#fff" stroke="#fff" stroke-width="0.15">9: GPL560, short</text>
<rect x="160.80" y="542.40" width="4.40" height="2.00" fill="#fff"/>
<rect x="205.60" y="542.40" width="4.40" height="2.00" fill="#fff"/>
<rect x="239.50" y="537.80" width="3.10" height="8.70" fill="#121212"/>
<rect x="491.30" y="539.90" width="4.40" height="2.00" fill="#fff"/>
<rect x="534.70" y="540.80" width="4.40" height="2.00" fill="#fff"/>
<rect x="596.70" y="542.30" width="4.40" height="2.00" fill="#fff"/>
<rect x="657.40" y="541.40" width="4.40" height="2.00" fill="#fff"/>
<text x="31.90" y="572.00" font-size="11.4" fill="#fff" stroke="#fff" stroke-width="0.15">10</text>
<text x="72.50" y="572.00" font-size="9.9" fill="#fff" stroke="#fff" stroke-width="0.15">10: GPL610</text>
<rect x="160.80" y="565.80" width="4.40" height="2.00" fill="#fff"/>
<rect x="205.60" y="565.80" width="4.40" height="2.00" fill="#fff"/>
<rect x="239.50" y="562.00" width="41.60" height="8.80" fill="#121212"/>
<rect x="281.10" y="562.00" width="5.30" height="8.80" fill="#c9281d"/>
<rect x="491.30" y="565.30" width="4.40" height="2.00" fill="#fff"/>
<rect x="534.70" y="566.20" width="4.40" height="2.00" fill="#fff"/>
<text x="575.30" y="570.40" font-size="11.0" fill="#fff" stroke="#fff" stroke-width="0.15" textLength="47.20" lengthAdjust="spacingAndGlyphs">+ARYQA</text>
<rect x="657.40" y="566.20" width="4.40" height="2.00" fill="#fff"/>
<text x="31.90" y="594.40" font-size="11.4" fill="#fff" stroke="#fff" stroke-width="0.15">11</text>
<text x="72.50" y="594.40" font-size="9.9" fill="#fff" stroke="#fff" stroke-width="0.15">11: GPL626</text>
<rect x="160.80" y="589.90" width="4.40" height="2.00" fill="#fff"/>
<rect x="205.60" y="589.90" width="4.40" height="2.00" fill="#fff"/>
<rect x="239.50" y="586.00" width="46.50" height="8.70" fill="#121212"/>
<rect x="286.00" y="586.00" width="13.20" height="8.70" fill="#c9281d"/>
<rect x="491.30" y="590.20" width="4.40" height="2.00" fill="#fff"/>
<rect x="534.70" y="590.20" width="4.40" height="2.00" fill="#fff"/>
<rect x="596.70" y="590.30" width="4.40" height="2.00" fill="#fff"/>
<text x="636.20" y="594.40" font-size="11.0" fill="#fff" stroke="#fff" stroke-width="0.15" textLength="45.00" lengthAdjust="spacingAndGlyphs">+LDCAF</text>
<line x1="186.70" y1="445.70" x2="186.70" y2="601.20" stroke="#222" stroke-width="1.6"/>
<line x1="506.00" y1="458.00" x2="506.00" y2="601.20" stroke="#222" stroke-width="1.7"/>
<line x1="567.50" y1="458.00" x2="567.50" y2="601.20" stroke="#222" stroke-width="1.7"/>
<line x1="629.60" y1="458.00" x2="629.60" y2="601.20" stroke="#222" stroke-width="1.7"/>
<text x="19.50" y="651.50" font-size="18.5" fill="#111" font-weight="bold">f)</text>
<text x="31.60" y="673.00" font-size="15.3" fill="#111" stroke="#111" stroke-width="0.15" textLength="86.60" lengthAdjust="spacingAndGlyphs">LEPR (OBR)</text>
<line x1="31.00" y1="679.10" x2="683.50" y2="679.10" stroke="#222" stroke-width="1.6"/>
<text x="49.40" y="715.30" font-size="11.2" fill="#111" stroke="#111" stroke-width="0.15" text-anchor="middle" textLength="37.60" lengthAdjust="spacingAndGlyphs">Isoform</text>
<text x="107.10" y="699.80" font-size="11.2" fill="#111" stroke="#111" stroke-width="0.15" text-anchor="middle" textLength="51.50" lengthAdjust="spacingAndGlyphs">Alternative</text>
<text x="106.90" y="714.30" font-size="11.2" fill="#111" stroke="#111" stroke-width="0.15" text-anchor="middle" textLength="26.80" lengthAdjust="spacingAndGlyphs">name</text>
<text x="163.30" y="697.60" font-size="11.2" fill="#111" stroke="#111" stroke-width="0.15" text-anchor="middle" textLength="30.00" lengthAdjust="spacingAndGlyphs">TRAF</text>
<text x="208.60" y="697.60" font-size="11.2" fill="#111" stroke="#111" stroke-width="0.15" text-anchor="middle" textLength="28.30" lengthAdjust="spacingAndGlyphs">STAT</text>
<text x="152.30" y="714.30" font-size="11.2" fill="#111" stroke="#111" stroke-width="0.15" text-anchor="middle">2</text>
<text x="174.40" y="714.30" font-size="11.2" fill="#111" stroke="#111" stroke-width="0.15" text-anchor="middle">6</text>
<text x="197.10" y="714.30" font-size="11.2" fill="#111" stroke="#111" stroke-width="0.15" text-anchor="middle">3</text>
<text x="219.40" y="714.30" font-size="11.2" fill="#111" stroke="#111" stroke-width="0.15" text-anchor="middle">5</text>
<line x1="163.70" y1="702.70" x2="163.70" y2="717.60" stroke="#222" stroke-width="1.5"/>
<line x1="208.70" y1="702.70" x2="208.70" y2="717.60" stroke="#222" stroke-width="1.5"/>
<text x="325.40" y="697.30" font-size="11.2" fill="#111" stroke="#111" stroke-width="0.15" text-anchor="middle" textLength="57.50" lengthAdjust="spacingAndGlyphs">Length ICD</text>
<text x="468.60" y="714.40" font-size="11.2" fill="#111" stroke="#111" stroke-width="0.15" text-anchor="middle" textLength="31.60" lengthAdjust="spacingAndGlyphs">14.3.3</text>
<text x="594.70" y="693.40" font-size="11.2" fill="#111" stroke="#111" stroke-width="0.15" text-anchor="middle" textLength="22.80" lengthAdjust="spacingAndGlyphs">PDZ</text>
<text x="538.50" y="714.20" font-size="11.2" fill="#111" stroke="#111" stroke-width="0.15" text-anchor="middle" textLength="13.60" lengthAdjust="spacingAndGlyphs">C1</text>
<text x="598.20" y="714.20" font-size="11.2" fill="#111" stroke="#111" stroke-width="0.15" text-anchor="middle" textLength="14.20" lengthAdjust="spacingAndGlyphs">C2</text>
<text x="661.00" y="714.20" font-size="11.2" fill="#111" stroke="#111" stroke-width="0.15" text-anchor="middle" textLength="14.20" lengthAdjust="spacingAndGlyphs">C3</text>
<line x1="29.30" y1="721.30" x2="70.70" y2="721.30" stroke="#222" stroke-width="1.5"/>
<line x1="85.10" y1="721.30" x2="127.30" y2="721.30" stroke="#222" stroke-width="1.5"/>
<line x1="143.50" y1="721.30" x2="230.50" y2="721.30" stroke="#222" stroke-width="1.5"/>
<line x1="429.20" y1="721.30" x2="683.50" y2="721.30" stroke="#222" stroke-width="1.5"/>
<line x1="507.00" y1="698.10" x2="683.50" y2="698.10" stroke="#222" stroke-width="1.5"/>
<line x1="241.10" y1="721.10" x2="412.50" y2="721.10" stroke="#222" stroke-width="1.3"/>
<line x1="241.10" y1="721.70" x2="241.10" y2="717.10" stroke="#222" stroke-width="1.3"/>
<text x="241.10" y="715.40" font-size="10.0" fill="#111" stroke="#111" stroke-width="0.15" text-anchor="middle">0</text>
<line x1="278.80" y1="721.70" x2="278.80" y2="717.10" stroke="#222" stroke-width="1.3"/>
<text x="278.80" y="715.40" font-size="10.0" fill="#111" stroke="#111" stroke-width="0.15" text-anchor="middle">75</text>
<line x1="323.30" y1="721.70" x2="323.30" y2="717.10" stroke="#222" stroke-width="1.3"/>
<text x="323.30" y="715.40" font-size="10.0" fill="#111" stroke="#111" stroke-width="0.15" text-anchor="middle">150</text>
<line x1="369.30" y1="721.70" x2="369.30" y2="717.10" stroke="#222" stroke-width="1.3"/>
<text x="369.30" y="715.40" font-size="10.0" fill="#111" stroke="#111" stroke-width="0.15" text-anchor="middle">225</text>
<line x1="412.50" y1="721.70" x2="412.50" y2="717.10" stroke="#222" stroke-width="1.3"/>
<text x="412.50" y="715.40" font-size="10.0" fill="#111" stroke="#111" stroke-width="0.15" text-anchor="middle">300</text>
<rect x="28.70" y="725.30" width="654.80" height="24.10" fill="#5cbd4c"/>
<rect x="28.70" y="748.40" width="654.80" height="26.50" fill="#4aab5a"/>
<rect x="28.70" y="773.90" width="654.80" height="26.60" fill="#48975a"/>
<rect x="28.70" y="799.50" width="654.80" height="23.50" fill="#4b7f57"/>
<text x="33.00" y="741.90" font-size="11.4" fill="#fff" stroke="#fff" stroke-width="0.15">B</text>
<text x="71.80" y="741.90" font-size="9.9" fill="#fff" stroke="#fff" stroke-width="0.15">B: 13.2, OBRb</text>
<rect x="159.40" y="735.55" width="7.40" height="1.30" fill="#fff"/>
<rect x="162.45" y="732.60" width="1.30" height="7.20" fill="#fff"/>
<rect x="204.20" y="735.55" width="7.40" height="1.30" fill="#fff"/>
<rect x="207.25" y="732.60" width="1.30" height="7.20" fill="#fff"/>
<rect x="241.00" y="733.10" width="172.00" height="9.40" fill="#121212"/>
<text x="452.30" y="742.10" font-size="11.0" fill="#fff" stroke="#fff" stroke-width="0.15" textLength="46.70" lengthAdjust="spacingAndGlyphs">+RVSCP</text>
<rect x="535.60" y="735.60" width="4.40" height="2.00" fill="#fff"/>
<text x="576.20" y="741.00" font-size="11.0" fill="#fff" stroke="#fff" stroke-width="0.15" textLength="44.20" lengthAdjust="spacingAndGlyphs">+CDLTV</text>
<rect x="658.90" y="736.80" width="4.40" height="2.00" fill="#fff"/>
<text x="33.00" y="767.80" font-size="11.4" fill="#fff" stroke="#fff" stroke-width="0.15">A</text>
<text x="71.80" y="767.80" font-size="9.9" fill="#fff" stroke="#fff" stroke-width="0.15">A: 6.4, HuB219.3</text>
<rect x="160.90" y="760.10" width="4.40" height="2.00" fill="#fff"/>
<rect x="205.70" y="760.10" width="4.40" height="2.00" fill="#fff"/>
<rect x="241.00" y="757.10" width="15.30" height="9.00" fill="#121212"/>
<rect x="256.30" y="757.10" width="2.30" height="9.00" fill="#c9281d"/>
<rect x="492.40" y="761.00" width="4.40" height="2.00" fill="#fff"/>
<rect x="535.60" y="759.40" width="4.40" height="2.00" fill="#fff"/>
<rect x="599.90" y="759.50" width="4.40" height="2.00" fill="#fff"/>
<text x="640.90" y="765.80" font-size="11.0" fill="#fff" stroke="#fff" stroke-width="0.15" textLength="39.70" lengthAdjust="spacingAndGlyphs">+RTDIL</text>
<text x="33.00" y="792.30" font-size="11.4" fill="#fff" stroke="#fff" stroke-width="0.15">C</text>
<text x="71.80" y="792.30" font-size="9.9" fill="#fff" stroke="#fff" stroke-width="0.15">C: 12.1, OBRa</text>
<rect x="160.90" y="788.40" width="4.40" height="2.00" fill="#fff"/>
<rect x="204.20" y="787.95" width="7.40" height="1.30" fill="#fff"/>
<rect x="207.25" y="785.00" width="1.30" height="7.20" fill="#fff"/>
<rect x="241.00" y="781.90" width="3.00" height="9.60" fill="#121212"/>
<rect x="244.00" y="781.90" width="43.80" height="9.60" fill="#c9281d"/>
<rect x="492.40" y="783.90" width="4.40" height="2.00" fill="#fff"/>
<rect x="535.60" y="784.80" width="4.40" height="2.00" fill="#fff"/>
<rect x="599.90" y="787.10" width="4.40" height="2.00" fill="#fff"/>
<rect x="658.90" y="787.50" width="4.40" height="2.00" fill="#fff"/>
<text x="33.00" y="816.80" font-size="11.4" fill="#fff" stroke="#fff" stroke-width="0.15">D</text>
<text x="71.80" y="816.80" font-size="9.9" fill="#fff" stroke="#fff" stroke-width="0.15">D: HuB219.2</text>
<rect x="160.90" y="812.20" width="4.40" height="2.00" fill="#fff"/>
<rect x="205.70" y="812.20" width="4.40" height="2.00" fill="#fff"/>
<rect x="241.00" y="806.70" width="18.20" height="9.10" fill="#121212"/>
<rect x="259.20" y="806.70" width="5.80" height="9.10" fill="#c9281d"/>
<rect x="492.40" y="809.90" width="4.40" height="2.00" fill="#fff"/>
<rect x="535.60" y="810.80" width="4.40" height="2.00" fill="#fff"/>
<rect x="599.90" y="810.00" width="4.40" height="2.00" fill="#fff"/>
<rect x="658.90" y="809.90" width="4.40" height="2.00" fill="#fff"/>
<line x1="187.90" y1="690.20" x2="187.90" y2="823.00" stroke="#222" stroke-width="1.6"/>
<line x1="507.00" y1="702.50" x2="507.00" y2="823.00" stroke="#222" stroke-width="1.7"/>
<line x1="568.80" y1="702.50" x2="568.80" y2="823.00" stroke="#222" stroke-width="1.7"/>
<line x1="630.60" y1="702.50" x2="630.60" y2="823.00" stroke="#222" stroke-width="1.7"/>
</svg>
</body></html>
